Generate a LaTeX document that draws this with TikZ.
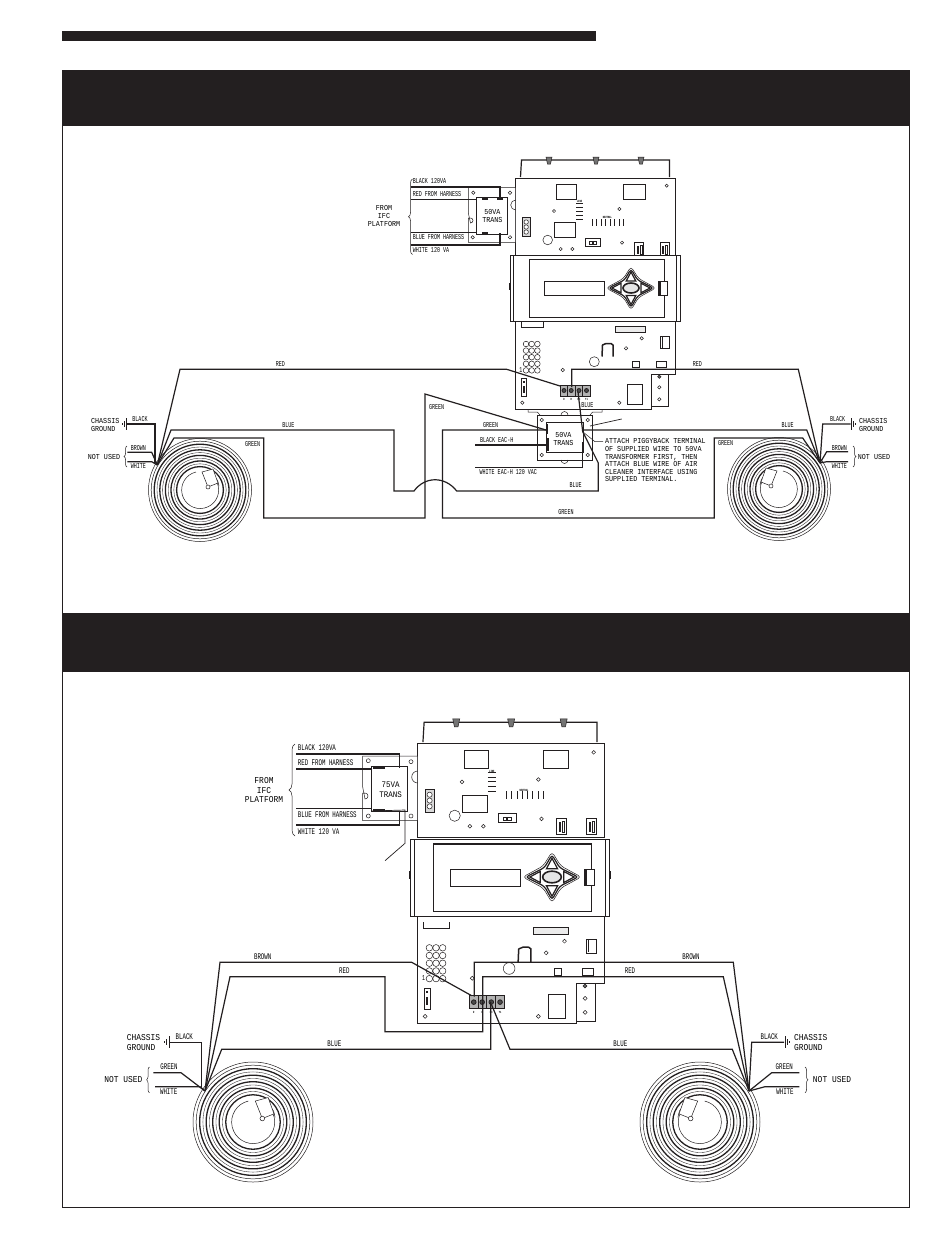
\documentclass[tikz,border=0pt]{standalone}
\usepackage{fontspec}
\usetikzlibrary{decorations.pathreplacing}
\setmainfont{Liberation Mono}
\newfontfamily\wirefont[FakeStretch=0.67]{Liberation Mono}
\newfontfamily\notefont[FakeStretch=0.88]{Liberation Mono}
\definecolor{ink}{HTML}{231F20}
\tikzset{
	wiretext/.style={font=\wirefont\fontsize{7.5}{8}\selectfont,inner sep=0pt},
	wiretextb/.style={font=\wirefont\fontsize{8.6}{9}\selectfont,inner sep=0pt},
	notetext/.style={font=\notefont\fontsize{7.6}{8}\selectfont,inner sep=0pt,align=center},
	notetextb/.style={font=\notefont\fontsize{9}{9.6}\selectfont,inner sep=0pt,align=center},
	tinytext/.style={font=\wirefont\fontsize{3.2}{3.2}\selectfont\bfseries,inner sep=0pt},
	wire/.style={line width=1.2pt,ink,line join=miter},
	part/.style={line width=0.5pt,ink},
	heavy/.style={line width=1.2pt,ink},
	hole/.style={line width=0.5pt,ink,fill=white},
	bar/.style={fill=ink,draw=none},
	sidebrace/.style={line width=0.5pt,ink,decorate,decoration={brace,amplitude=#1}}
}
\newcommand{\coil}[4]{%
	\begin{scope}[shift={(#1,#2)},xscale=#3,yscale=#4]
		\draw[part] (0,0) circle [radius=51.5];
		\draw[part] (0,0) circle [radius=48.8];
		\foreach \ringr in {45.8,40.2,34.6,29,23.4}
			\draw[ink,line width=1.3pt] (0,0) circle [radius=\ringr];
		\foreach \ringr in {43,37.4,31.8,26.2}
			\draw[line width=0.35pt,ink] (0,0) circle [radius=\ringr];
		\draw[part] (-4,-18) arc [start angle=-103,end angle=-400,radius=18.5];
		\draw[part] (10,-17) arc [start angle=-60,end angle=-30,radius=21] -- (19,-4);
		\draw[part,fill=white] (2,-18)--(13,-21)--(18,-7)--(8,-3)--cycle;
		\draw[hole] (8,-3) circle [radius=2];
	\end{scope}}
\newcommand{\groundsym}[3]{%
	\draw[ink,line width=1pt] (#1,#2-6)--(#1,#2+6);
	\draw[ink,line width=0.8pt] (#1+#3*2.5,#2-3)--(#1+#3*2.5,#2+3);
	\draw[ink,line width=0.8pt] (#1+#3*4.5,#2-1)--(#1+#3*4.5,#2+1);}
\newcommand{\boardtop}{%
	\draw[heavy] (520.5,177)--(521.5,160)--(669.5,160)--(669.5,177);
	\foreach \tabx in {549,596,641}
		\draw[part,fill=black!55] (\tabx-3,157)--(\tabx+3,157)--(\tabx+1.5,164)--(\tabx-1.5,164)--cycle;
	\draw[part,fill=white] (515.7,178) rectangle (675.7,258);
	\draw[part] (556,184) rectangle (576.7,199);
	\draw[part] (623.3,184) rectangle (645,199);
	\draw[part] (554.3,222.3) rectangle (575.7,237.3);
	\foreach \barr in {203,207,211,215,219}
		\draw[ink,line width=0.9pt] (576,\barr)--(582.7,\barr);
	\foreach \tickx in {592,596.5,601,605.5,610,614.5,619,623.5}
		\draw[ink,line width=0.9pt] (\tickx,219)--(\tickx,226);
	\foreach \hx/\hy in {666.7/185.7,554/211,619.3/209,622/242.7,560.7/249,572.3/249}
		\draw[hole] (\hx,\hy) circle [radius=1.6];
	\draw[part] (547.7,240) circle [radius=4.8];
	\draw[part,fill=black!15] (522.3,217.3) rectangle (530,236.7);
	\foreach \cy in {222,227,232}
		\draw[hole] (526.2,\cy) circle [radius=2.2];
	\draw[part] (585,238.3) rectangle (600,246);
	\draw[hole] (589,241) rectangle (592,244);
	\draw[hole] (593,241) rectangle (596,244);
	\foreach \cx in {634.3,660}{
		\draw[part] (\cx,242.3) rectangle (\cx+9,256);
		\draw[part,fill=black!60] (\cx+2.5,246) rectangle (\cx+3.5,253);
		\draw[part] (\cx+5.5,245) rectangle (\cx+7.5,254);}
}
\newcommand{\displayunit}{%
	\draw[part,fill=white] (510,255.7) rectangle (680,321.7);
	\draw[part] (513.3,255.7)--(513.3,321.7);
	\draw[part] (676.7,255.7)--(676.7,321.7);
	\draw[ink,line width=1.6pt] (509.5,283)--(509.5,290);
	\draw[ink,line width=1.6pt] (680.5,283)--(680.5,290);
	\draw[heavy] (529.3,259.7) rectangle (664.7,317.3);
	\draw[part] (544.3,281) rectangle (604,295.7);
	\draw[part,fill=white] (658.3,281.7) rectangle (667,295);
	\draw[ink,line width=1.4pt] (660,282)--(660,295);
	\draw[part,rounded corners=3.5pt] (631,266.5)--(638.5,278.5)--(656,288)--(638.5,297.5)--(631,310)--(623.5,297.5)--(606,288)--(623.5,278.5)--cycle;
	\draw[heavy,rounded corners=3pt] (631,269)--(637.5,280)--(653.5,288)--(637.5,296)--(631,307.5)--(624.5,296)--(608.5,288)--(624.5,280)--cycle;
	\draw[heavy,fill=white] (631,272)--(635.8,281)--(626.2,281)--cycle;
	\draw[heavy,fill=white] (631,304.5)--(635.8,295.5)--(626.2,295.5)--cycle;
	\draw[heavy,fill=white] (650,288)--(641,283.2)--(641,292.8)--cycle;
	\draw[heavy,fill=white] (612,288)--(621,283.2)--(621,292.8)--cycle;
	\draw[ink,line width=1.6pt,fill=black!10] (631,288) ellipse [x radius=8,y radius=5];
}
\newcommand{\boardlow}{%
	\draw[part,fill=white] (515.7,316)--(515.7,409)--(651.7,409)--(651.7,374.3)--(675.7,374.3)--(675.7,316);
	\draw[part,fill=white] (651.7,374.3) rectangle (668.3,406.7);
	\draw[part] (521,322)--(521,327)--(543,327)--(543,322);
	\draw[part,fill=black!8] (615,326) rectangle (645,332.7);
	\draw[ink,line width=1.2pt] (617,332.7)--(643,332.7);
	\foreach \gx in {526,531.7,537.4}
		\foreach \gy in {344,350.6,357.2,363.8,370.4}
			\draw[part,fill=white] (\gx,\gy) circle [radius=2.8];
	\node[wiretext] (onemark) at (521,370) {1};
	\draw[part,fill=white] (521.7,378.3) rectangle (526.7,396.7);
	\draw[bar] (523.2,381) rectangle (525.2,383);
	\draw[bar] (523.2,386) rectangle (525.2,393);
	\draw[ink,line width=1.5pt,line join=round] (602,356.5)--(602.5,345)--(606,343.5)--(611,343.5)--(613,345)--(613,356.5);
	\foreach \hx/\hy in {626/348.3,641.7/338.3,562.7/370,522.3/402.7,619.3/402.7,659.3/387.3,659.3/399.3}
		\draw[hole] (\hx,\hy) circle [radius=1.7];
	\draw[part,fill=black!60] (659.3,376.7) circle [radius=1.7];
	\draw[part] (594.3,361.7) circle [radius=5];
	\draw[part] (660,336.7) rectangle (669.3,348.3);
	\draw[ink,line width=0.9pt] (662,337)--(662,348);
	\draw[part] (632.7,361.7) rectangle (639.3,367.3);
	\draw[part] (656.7,361.7) rectangle (666.7,367.3);
	\draw[part] (627.7,384) rectangle (642.7,404);
	\draw[part,fill=black!30] (560,385) rectangle (590,396);
	\foreach \tx in {567.5,575,582.5}
		\draw[part] (\tx,385)--(\tx,396);
	\foreach \tx in {564,571.2,579,586.5}
		\draw[ink,fill=black!70,line width=0.8pt] (\tx,390.5) circle [radius=2];
	\node[tinytext] (termd) at (564,399.5) {D};
	\node[tinytext] (termr) at (571.2,399.5) {R};
	\node[tinytext] (termc) at (579,399.5) {BC};
	\node[tinytext] (termy) at (586.5,399.5) {Y1};
}
\begin{document}
\begin{tikzpicture}[x=1pt,y=-1pt]
	\useasboundingbox (0,0) rectangle (950,1248);
	\fill[white] (0,0) rectangle (950,1248);
	\fill[ink] (62,31) rectangle (595.5,41);
	\draw[ink,line width=0.8pt] (62.5,70) rectangle (909,1207);
	\fill[ink] (62,70) rectangle (909.4,126);
	\fill[ink] (62,613) rectangle (909.4,672);

	% first unit
	\boardlow
	\boardtop
	\displayunit
	\node[tinytext] (lineA) at (579.5,201) {LINE};
	\node[tinytext] (neutA) at (607.3,217) {NEUTRAL};

	\draw[part,fill=white] (468.3,187.3)--(515.7,187.3)--(515.7,242.3)--(468.3,242.3)--(468.3,218)--(470.5,218) arc [start angle=-90,end angle=90,radius=2.5] --(468.3,213)--cycle;
	\draw[part] (515.7,210) arc [start angle=90,end angle=270,radius=5];
	\draw[part] (476.7,197.3) rectangle (507.3,234);
	\foreach \hx/\hy in {473.3/192.7,510/192.7,472.7/237.3,510/237.3}
		\draw[hole] (\hx,\hy) circle [radius=1.7];
	\draw[wire] (411,187)--(500,187)--(500,198);
	\draw[wire] (411,199.3)--(476.7,199.3)--(476.7,232.7)--(411,232.7);
	\draw[wire] (411,245)--(500,245)--(500,233.3);
	\draw[heavy] (482,199)--(488,199);
	\draw[heavy] (482,233)--(488,233);
	\draw[heavy] (497,199)--(503,199);
	\draw[sidebrace=4pt] (412.5,254.5)--(412.5,179);
	\node[wiretext,anchor=west] (t50a) at (412.7,181) {BLACK 120VA};
	\node[wiretext,anchor=west] (t50b) at (412.7,194.5) {RED FROM HARNESS};
	\node[wiretext,anchor=west] (t50c) at (412.7,237.5) {BLUE FROM HARNESS};
	\node[wiretext,anchor=west] (t50d) at (412.7,250) {WHITE 120 VA};
	\node[notetext] (fromA) at (384,216.3) {FROM\\IFC\\PLATFORM};
	\node[notetext] (transA) at (492.3,215.5) {50VA\\TRANS};

	\draw[part,fill=white] (537.3,415) rectangle (592.7,460);
	\draw[part] (546,422.7) rectangle (583,452.7);
	\foreach \hx/\hy in {541.7/420,587.7/420,541.7/455,587.7/455}
		\draw[hole] (\hx,\hy) circle [radius=1.7];
	\draw[part] (561,415) arc [start angle=180,end angle=360,radius=3.5];
	\draw[part] (561,460) arc [start angle=180,end angle=0,radius=3.5];
	\draw[part] (528,409)--(528,412)--(537.3,412)--(540,415);
	\draw[part] (602,409)--(602,412)--(592.7,412)--(590,415);
	\node[notetext] (transB) at (563.3,438.8) {50VA\\TRANS};

	\draw[wire] (560,386)--(506.7,369.3)--(180,369.3)--(157.3,465);
	\draw[wire] (571.7,387)--(571.7,369.3)--(798.3,369.3)--(820,463);
	\draw[wire] (157.3,465)--(171,430)--(394,430)--(394,491)--(414,491)
		.. controls (425,476) and (445,476) .. (456.7,491)
		--(598.3,491)--(598.3,463)--(582.7,431.7)--(578,392);
	\draw[wire] (157.3,465)--(174,438)--(263.7,438)--(263.7,518)--(425,518)--(425,394)--(546,430);
	\draw[wire] (546,430)--(442.5,430)--(442.5,518)--(714.3,518)--(714.3,438)--(802.7,438)--(820,463);
	\draw[wire] (582.7,430)--(806.7,430)--(820,463);
	\draw[wire] (475,445)--(548.3,445);
	\draw[wire] (475,467.3)--(582.7,467.3)--(582.7,441.7);
	\draw[heavy] (547.5,424)--(547.5,434);
	\draw[heavy] (548,438)--(548,451);
	\draw[part] (603,441.7)--(595,441.7)--(582.7,431.7);
	\draw[part,line width=0.7pt] (590,426)--(621.7,419);

	\draw[wire] (127,424)--(155,424)--(155,463);
	\draw[wire] (127.3,452.3)--(151.7,452.3)--(157.3,465);
	\draw[wire] (127.3,461.7)--(151.7,461.7)--(157.3,465);
	\draw[wire] (850.7,424)--(822.7,424)--(820,463);
	\draw[wire] (848,451.7)--(826.7,451.7)--(820,463);
	\draw[wire] (848,461.7)--(826.7,461.7)--(820,463);
	\groundsym{126.5}{424}{-1}
	\groundsym{851}{424}{1}
	\draw[sidebrace=3pt] (127,467)--(127,446);
	\draw[sidebrace=3pt] (853,446)--(853,467);
	\coil{200}{490}{1}{1}
	\coil{779}{489}{-1}{1}

	\node[notetext,anchor=west,align=left] (chasA) at (91,424.7) {CHASSIS\\GROUND};
	\node[notetext,anchor=west,align=left] (chasB) at (859,424.7) {CHASSIS\\GROUND};
	\node[notetext] (nusedA) at (104,456.7) {NOT USED};
	\node[notetext] (nusedB) at (874,456.7) {NOT USED};
	\node[wiretext] (l01) at (280.3,364.5) {RED};
	\node[wiretext] (l02) at (697.3,364) {RED};
	\node[wiretext] (l03) at (288.3,425.3) {BLUE};
	\node[wiretext] (l04) at (787.7,424.8) {BLUE};
	\node[wiretext] (l05) at (252.7,444) {GREEN};
	\node[wiretext] (l06) at (436.7,407) {GREEN};
	\node[wiretext] (l07) at (490.7,425.3) {GREEN};
	\node[wiretext] (l08) at (566,512.5) {GREEN};
	\node[wiretext] (l09) at (725.7,443.3) {GREEN};
	\node[wiretext] (l10) at (575.7,485.3) {BLUE};
	\node[wiretext] (l11) at (587.3,405) {BLUE};
	\node[wiretext] (l12) at (496.7,440.2) {BLACK EAC-H};
	\node[wiretext] (l13) at (508.3,472.5) {WHITE EAC-H 120 VAC};
	\node[wiretext] (l14) at (140,419.3) {BLACK};
	\node[wiretext] (l15) at (138.3,447.8) {BROWN};
	\node[wiretext] (l16) at (138.3,466) {WHITE};
	\node[wiretext] (l17) at (837.7,419.3) {BLACK};
	\node[wiretext] (l18) at (839.3,447.8) {BROWN};
	\node[wiretext] (l19) at (839.3,466) {WHITE};
	\node[notetext,anchor=north west,align=left,font=\notefont\fontsize{7.6}{7.6}\selectfont] (attach) at (605,438.7) {ATTACH PIGGYBACK TERMINAL\\OF SUPPLIED WIRE TO 50VA\\TRANSFORMER FIRST, THEN\\ATTACH BLUE WIRE OF AIR\\CLEANER INTERFACE USING\\SUPPLIED TERMINAL.};

	% second unit
	\begin{scope}[shift={(-185,546)},scale=1.168]
		\boardlow
	\end{scope}
	\begin{scope}[shift={(-185,535.4)},scale=1.168]
		\boardtop
	\end{scope}
	\begin{scope}[shift={(-185,540.6)},scale=1.168]
		\displayunit
	\end{scope}
	\node[tinytext] (lineB) at (491.8,771.5) {LINE};
	\node[tinytext] (neutB) at (524,790) {NEUTRAL};

	\draw[part,fill=white] (362.7,756)--(417.7,756)--(417.7,820.7)--(362.7,820.7)--(362.7,793)--(365,793) arc [start angle=-90,end angle=90,radius=3] --(362.7,787)--cycle;
	\draw[part] (417.7,783) arc [start angle=90,end angle=270,radius=6];
	\draw[part] (371.7,766.7) rectangle (407.7,811);
	\foreach \hx/\hy in {368.3/760.7,411/761.7,368.3/816,411/816}
		\draw[hole] (\hx,\hy) circle [radius=2];
	\draw[wire] (296,754)--(399.3,754)--(399.3,768.3);
	\draw[wire] (296,769)--(371.7,769);
	\draw[wire] (296,808.3)--(371.7,808.3);
	\draw[wire] (296,825)--(399.3,825)--(399.3,811.7);
	\draw[heavy] (373,768)--(385,768);
	\draw[heavy] (373,810)--(385,810);
	\draw[part,line width=0.7pt] (371.7,811)--(405,810)--(405,843.3)--(385,860.7);
	\draw[sidebrace=6pt] (295,836)--(295,744);
	\node[wiretextb,anchor=west] (t75a) at (297.7,748) {BLACK 120VA};
	\node[wiretextb,anchor=west] (t75b) at (297.7,763) {RED FROM HARNESS};
	\node[wiretextb,anchor=west] (t75c) at (297.7,815) {BLUE FROM HARNESS};
	\node[wiretextb,anchor=west] (t75d) at (297.7,831.5) {WHITE 120 VA};
	\node[notetextb] (fromB) at (264,790.3) {FROM\\IFC\\PLATFORM};
	\node[notetextb,font=\notefont\fontsize{8.5}{9.3}\selectfont] (transC) at (390.7,789.7) {75VA\\TRANS};

	\draw[wire] (471.7,995.7)--(411.7,962.3)--(220,962.3)--(205,1091);
	\draw[wire] (482.7,1001.7)--(482.7,1031.7)--(385,1031.7)--(385,976.7)--(230,976.7)--(205,1091);
	\draw[wire] (490.7,1001.7)--(490.7,1049.3)--(221.7,1049.3)--(205,1091);
	\draw[wire] (170,1042.3)--(201.7,1042.3)--(201.7,1086.7);
	\draw[wire] (153.3,1072.7)--(181,1072.7)--(205,1091);
	\draw[wire] (155,1086.7)--(200,1086.7)--(205,1091);
	\draw[wire] (474.3,996.7)--(474.3,962.3)--(733.3,962.3)--(749,1091);
	\draw[wire] (482.7,1001.7)--(482.7,976.7)--(723.3,976.7)--(749,1091);
	\draw[wire] (491.7,1005)--(510,1049.3)--(732.3,1049.3)--(749,1091);
	\draw[wire] (784,1042.3)--(751.7,1042.3)--(749,1091);
	\draw[wire] (799.3,1072.7)--(771.7,1072.7)--(749,1091);
	\draw[wire] (799.3,1086.7)--(765,1086.7)--(749,1091);
	\groundsym{169}{1042.3}{-1}
	\groundsym{785}{1042.3}{1}
	\draw[sidebrace=3pt] (149.5,1092.7)--(149.5,1067);
	\draw[sidebrace=3pt] (805,1067)--(805,1092.7);
	\coil{253}{1122}{1.165}{1.165}
	\coil{700}{1122}{-1.165}{1.165}

	\node[notetextb,anchor=west,align=left] (chasC) at (126.7,1042.8) {CHASSIS\\GROUND};
	\node[notetextb,anchor=west,align=left] (chasD) at (794,1042.3) {CHASSIS\\GROUND};
	\node[notetextb] (nusedC) at (123.3,1080) {NOT USED};
	\node[notetextb] (nusedD) at (832,1079.3) {NOT USED};
	\node[wiretextb] (m01) at (262.7,956.3) {BROWN};
	\node[wiretextb] (m02) at (344.3,970.7) {RED};
	\node[wiretextb] (m03) at (334.3,1043.3) {BLUE};
	\node[wiretextb] (m04) at (184.3,1037) {BLACK};
	\node[wiretextb] (m05) at (169,1067) {GREEN};
	\node[wiretextb] (m06) at (168.7,1092) {WHITE};
	\node[wiretextb] (m07) at (691,956.3) {BROWN};
	\node[wiretextb] (m08) at (630,970.7) {RED};
	\node[wiretextb] (m09) at (620.3,1043.3) {BLUE};
	\node[wiretextb] (m10) at (769.3,1037) {BLACK};
	\node[wiretextb] (m11) at (784.3,1067) {GREEN};
	\node[wiretextb] (m12) at (785,1092) {WHITE};
\end{tikzpicture}
\end{document}
